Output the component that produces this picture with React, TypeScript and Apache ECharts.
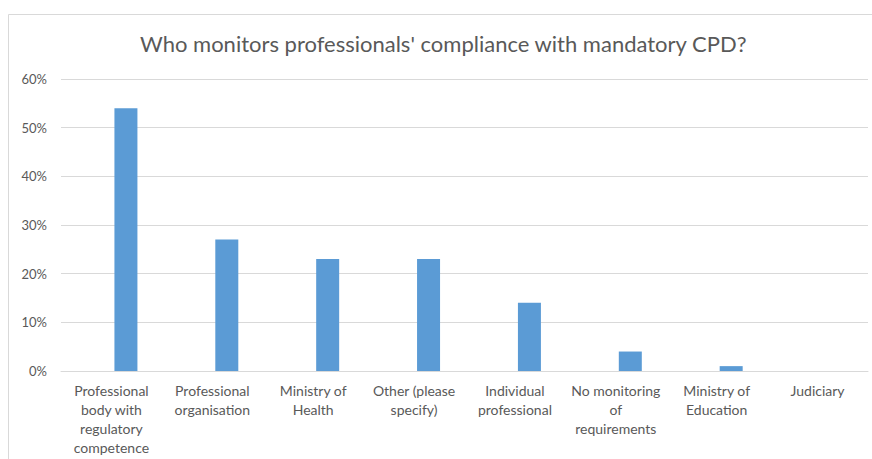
import React, { useEffect, useRef } from "react";
import * as echarts from "echarts";

const titleText = "Who monitors professionals' compliance with mandatory CPD?";
const categories = [
  "Professional\nbody with\nregulatory\ncompetence",
  "Professional\norganisation",
  "Ministry of\nHealth",
  "Other (please\nspecify)",
  "Individual\nprofessional",
  "No monitoring\nof\nrequirements",
  "Ministry of\nEducation",
  "Judiciary",
];
const values = [0.54, 0.27, 0.23, 0.23, 0.14, 0.04, 0.01, 0];
const emptySeries = [null, null, null, null, null, null, null, null];

const FONT = "Lato, 'Noto Sans', sans-serif";
const TEXT = "#595959";
const GRID = "#D9D9D9";

export default function App() {
  const ref = useRef<HTMLDivElement>(null);
  useEffect(() => {
    if (!ref.current) return;
    const chart = echarts.init(ref.current, undefined, { renderer: "svg" });
    chart.setOption({
      animation: false,
      backgroundColor: "#ffffff",
      title: {
        text: titleText,
        left: 135,
        top: 27,
        textStyle: { fontFamily: FONT, fontSize: 22, fontWeight: "normal", color: TEXT },
      },
      graphic: [
        {
          type: "rect",
          shape: { x: 8.5, y: 14.5, width: 900, height: 500 },
          style: { fill: "none", stroke: GRID, lineWidth: 1 },
          silent: true,
        },
      ],
      grid: { left: 61, right: 4, top: 79, bottom: 88, containLabel: false },
      xAxis: {
        type: "category",
        data: categories,
        axisLine: { show: true, lineStyle: { color: GRID } },
        axisTick: { show: false },
        axisLabel: {
          interval: 0,
          margin: 10,
          fontFamily: FONT,
          fontSize: 14,
          lineHeight: 19,
          color: TEXT,
          verticalAlign: "top",
        },
      },
      yAxis: {
        type: "value",
        min: 0,
        max: 0.6,
        interval: 0.1,
        axisLine: { show: false },
        axisTick: { show: false },
        splitLine: { lineStyle: { color: GRID } },
        axisLabel: {
          margin: 14,
          fontFamily: FONT,
          fontSize: 13,
          color: TEXT,
          formatter: (v: number) => Math.round(v * 100) + "%",
        },
      },
      series: [
        {
          type: "bar",
          data: emptySeries,
          barWidth: 23,
          barGap: "26%",
          itemStyle: { color: "transparent" },
        },
        {
          type: "bar",
          data: values,
          barWidth: 23,
          barGap: "26%",
          itemStyle: { color: "#5B9BD5" },
        },
      ],
    });
    return () => chart.dispose();
  }, []);
  return (
    <div
      ref={ref}
      style={{ position: "fixed", left: 0, top: 0, width: 872, height: 459 }}
    />
  );
}
